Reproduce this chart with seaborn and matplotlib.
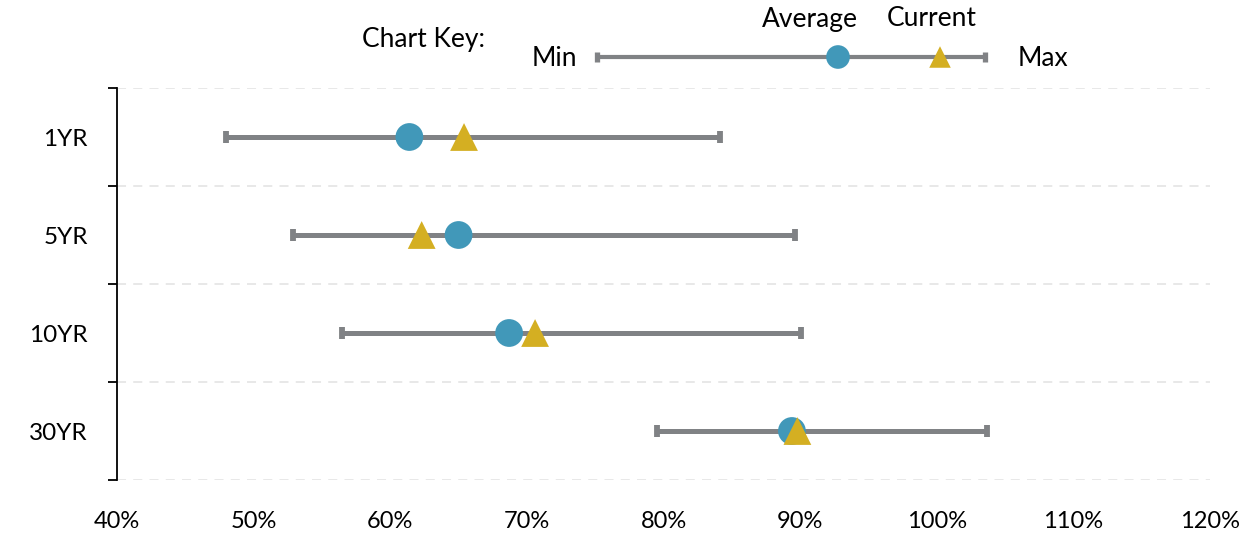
import numpy as np
import pandas as pd
import seaborn as sns
import matplotlib.pyplot as plt
from matplotlib.ticker import FuncFormatter

sns.set_style('white')
plt.rcParams['font.family'] = ['Lato', 'DejaVu Sans']
plt.rcParams['text.color'] = 'black'
plt.rcParams['xtick.color'] = 'black'
plt.rcParams['ytick.color'] = 'black'

# 数据
tenors = ['1YR', '5YR', '10YR', '30YR']
min_vals = [48.0, 52.9, 56.5, 79.5]
max_vals = [84.1, 89.6, 90.1, 103.7]
avg_vals = [61.4, 65.0, 68.7, 89.4]
cur_vals = [65.4, 62.3, 70.6, 89.8]

gray = '#808285'
blue = '#4198B9'
gold = '#D4AF22'

df = pd.DataFrame({'tenor': tenors, 'min': min_vals, 'max': max_vals,
                   'avg': avg_vals, 'cur': cur_vals})
df['pos'] = np.arange(len(df))

fig = plt.figure(figsize=(12.55, 5.35), dpi=100)
ax = fig.add_axes([117 / 1255, 55 / 535, 1093 / 1255, 392 / 535])

# 区间线 + 端点
ax.hlines(df['pos'], df['min'], df['max'], color=gray, lw=3.6, zorder=1)
for col in ['min', 'max']:
    ax.plot(df[col], df['pos'], ls='none', marker='|', ms=8.5, mew=4.2, color=gray, zorder=1)

sns.scatterplot(data=df, x='avg', y='pos', marker='o', s=400, color=blue,
                edgecolor='none', ax=ax, zorder=3)
sns.scatterplot(data=df, x='cur', y='pos', marker='^', s=400, color=gold,
                edgecolor='none', ax=ax, zorder=4)

ax.set_xlim(40, 120)
ax.set_ylim(len(df) - 0.5, -0.5)
ax.set_xticks(np.arange(40, 121, 10))
ax.xaxis.set_major_formatter(FuncFormatter(lambda v, p: f'{v:.0f}%'))
ax.tick_params(axis='x', length=0, pad=22, labelsize=17, labelcolor='black')

# 分隔刻度和类别标签
bounds = np.arange(len(df) + 1) - 0.5
ax.set_yticks(bounds)
ax.set_yticklabels([])
ax.set_yticks(df['pos'], minor=True)
ax.set_yticklabels(tenors, minor=True)
ax.tick_params(axis='y', which='major', length=6.5, width=1.3, color='black', direction='out', left=True)
ax.tick_params(axis='y', which='minor', length=0, pad=21, labelsize=17.5, labelcolor='black')
ax.yaxis.grid(True, which='major', ls=(0, (5, 4)), color='#E6E6E6', lw=1.3)
ax.set_axisbelow(True)

for s in ['top', 'right', 'bottom']:
    ax.spines[s].set_visible(False)
ax.spines['left'].set_color('black')
ax.spines['left'].set_linewidth(1.3)
ax.set_xlabel('')
ax.set_ylabel('')

# 图例 (Chart Key)
kax = fig.add_axes([0, 0, 1, 1], facecolor='none')
kax.set_xlim(0, 1255)
kax.set_ylim(535, 0)
kax.axis('off')
kax.plot([597, 985], [57, 57], color=gray, lw=3, solid_capstyle='butt')
kax.plot([597, 985], [57, 57], ls='none', marker='|', ms=7.5, mew=3.8, color=gray)
kax.scatter([838], [57], marker='o', s=290, color=blue, edgecolor='none', zorder=3)
kax.scatter([940], [57], marker='^', s=240, color=gold, edgecolor='none', zorder=3)
kax.text(485, 40, 'Chart Key:', ha='right', va='center', fontsize=19)
kax.text(577, 58, 'Min', ha='right', va='center', fontsize=19)
kax.text(1018, 58, 'Max', ha='left', va='center', fontsize=19)
kax.text(810, 19, 'Average', ha='center', va='center', fontsize=19)
kax.text(932, 19, 'Current', ha='center', va='center', fontsize=19)

fig.savefig('out.png', dpi=100)
